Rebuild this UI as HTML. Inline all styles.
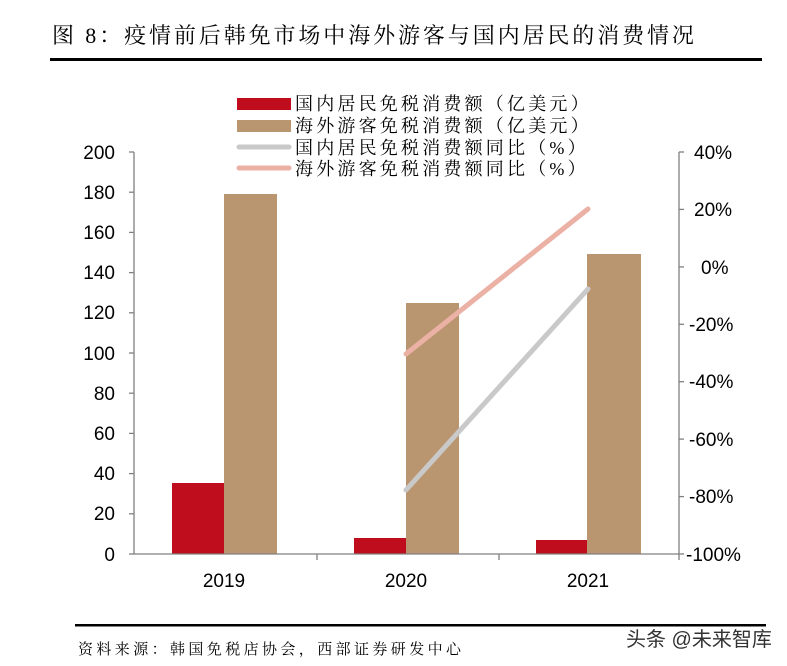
<!DOCTYPE html>
<html><head><meta charset="utf-8"><style>
body{margin:0;background:#fff;}
svg{display:block;}
.t{font-family:"Liberation Serif","Noto Serif CJK SC",serif;}
.n{font-family:"Liberation Sans",sans-serif;font-size:19px;fill:#000;}
</style></head><body>
<svg width="787" height="666" viewBox="0 0 787 666">
<text x="52" y="43" class="t" font-size="22" letter-spacing="2.9" fill="#000">图 8：疫情前后韩免市场中海外游客与国内居民的消费情况</text>
<rect x="50" y="58" width="712" height="3" fill="#000"/>
<!-- legend -->
<rect x="237" y="98" width="54" height="12" fill="#c00d1e"/>
<rect x="237" y="120" width="54" height="12" fill="#b99670"/>
<line x1="239" y1="147" x2="289" y2="147" stroke="#c9c9c9" stroke-width="5" stroke-linecap="round"/>
<line x1="239" y1="168" x2="289" y2="168" stroke="#ebb1a5" stroke-width="5" stroke-linecap="round"/>
<g class="t" font-size="18" fill="#000" letter-spacing="3.2">
<text x="295" y="110">国内居民免税消费额（亿美元）</text>
<text x="295" y="132">海外游客免税消费额（亿美元）</text>
<text x="295" y="154">国内居民免税消费额同比（%）</text>
<text x="295" y="175">海外游客免税消费额同比（%）</text>
</g>
<!-- bars -->
<rect x="172" y="483" width="52" height="71" fill="#c00d1e"/>
<rect x="224" y="194" width="53" height="360" fill="#b99670"/>
<rect x="354" y="538" width="52" height="16" fill="#c00d1e"/>
<rect x="406" y="303" width="53" height="251" fill="#b99670"/>
<rect x="536" y="540" width="51" height="14" fill="#c00d1e"/>
<rect x="587" y="254" width="54" height="300" fill="#b99670"/>
<!-- lines -->
<line x1="406" y1="490" x2="588" y2="289" stroke="#c9c9c9" stroke-width="5" stroke-linecap="round"/>
<line x1="406" y1="354" x2="588" y2="209" stroke="#ebb1a5" stroke-width="5" stroke-linecap="round"/>
<!-- axes -->
<g stroke="#808080" stroke-width="1.3" fill="none">
<line x1="134" y1="152" x2="134" y2="554"/>
<line x1="134" y1="554" x2="679" y2="554"/>
<line x1="679" y1="152" x2="679" y2="554"/>
<line x1="317" y1="554" x2="317" y2="560"/>
<line x1="499" y1="554" x2="499" y2="560"/>
<line x1="679" y1="554" x2="679" y2="560"/>
</g>
<g stroke="#808080" stroke-width="1.3">
<line x1="129" y1="152" x2="134" y2="152"/><line x1="129" y1="192.2" x2="134" y2="192.2"/><line x1="129" y1="232.4" x2="134" y2="232.4"/><line x1="129" y1="272.6" x2="134" y2="272.6"/><line x1="129" y1="312.8" x2="134" y2="312.8"/><line x1="129" y1="353" x2="134" y2="353"/><line x1="129" y1="393.2" x2="134" y2="393.2"/><line x1="129" y1="433.4" x2="134" y2="433.4"/><line x1="129" y1="473.6" x2="134" y2="473.6"/><line x1="129" y1="513.8" x2="134" y2="513.8"/><line x1="129" y1="554" x2="134" y2="554"/>
<line x1="679" y1="152" x2="684" y2="152"/><line x1="679" y1="209.4" x2="684" y2="209.4"/><line x1="679" y1="266.9" x2="684" y2="266.9"/><line x1="679" y1="324.3" x2="684" y2="324.3"/><line x1="679" y1="381.7" x2="684" y2="381.7"/><line x1="679" y1="439.1" x2="684" y2="439.1"/><line x1="679" y1="496.6" x2="684" y2="496.6"/><line x1="679" y1="554" x2="684" y2="554"/>
</g>
<g class="n" text-anchor="end">
<text x="115" y="159">200</text><text x="115" y="199">180</text><text x="115" y="239">160</text><text x="115" y="279">140</text><text x="115" y="319">120</text><text x="115" y="360">100</text><text x="115" y="400">80</text><text x="115" y="440">60</text><text x="115" y="480">40</text><text x="115" y="520">20</text><text x="115" y="561">0</text>
</g>
<g class="n" text-anchor="start">
<text x="694" y="159">40%</text><text x="694" y="216">20%</text><text x="701" y="274">0%</text><text x="689" y="331">-20%</text><text x="689" y="388">-40%</text><text x="689" y="446">-60%</text><text x="689" y="503">-80%</text><text x="686" y="561">-100%</text>
</g>
<g class="n" text-anchor="middle">
<text x="224" y="587">2019</text><text x="406" y="587">2020</text><text x="588" y="587">2021</text>
</g>
<rect x="75" y="624" width="691" height="2.5" fill="#000"/>
<text x="78" y="654" class="t" font-size="15" letter-spacing="3.4" fill="#000">资料来源：韩国免税店协会，西部证券研发中心</text>
<text x="626" y="646" font-family="Liberation Sans,'Noto Sans CJK SC',sans-serif" font-size="20" fill="#333">头条 @未来智库</text>
</svg>
</body></html>
